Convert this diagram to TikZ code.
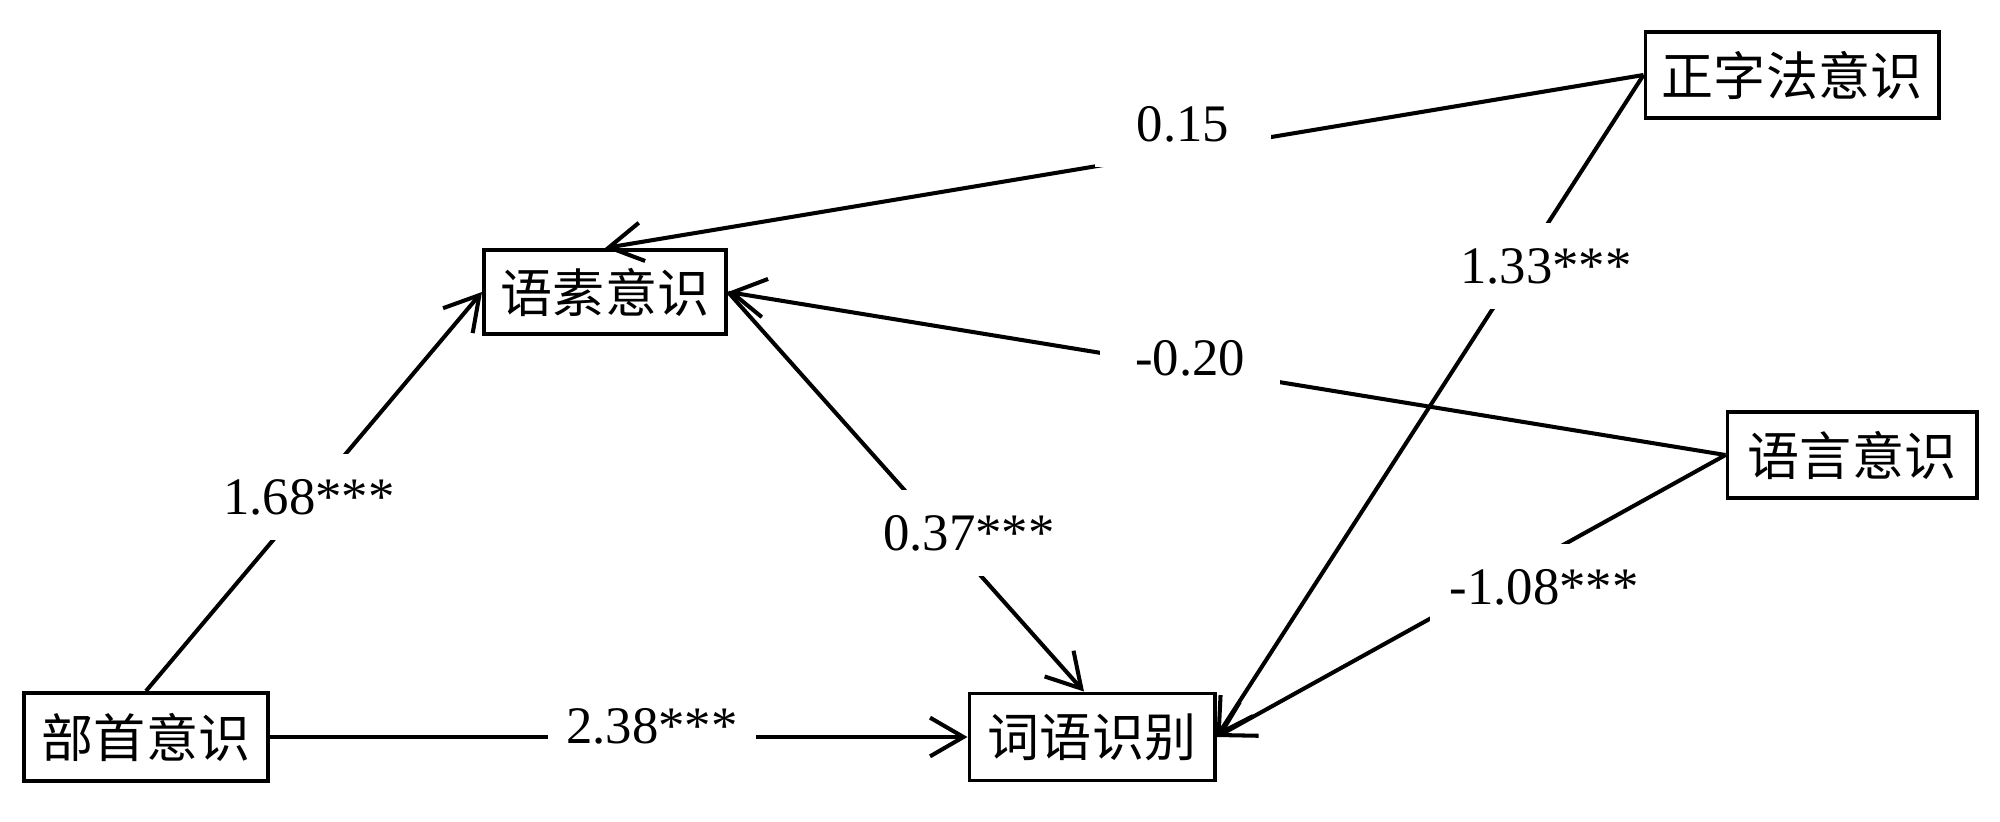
\documentclass[tikz,border=0pt]{standalone}
\usepackage{fontspec}
\setmainfont{Liberation Serif}
\newfontfamily\cjk{Noto Sans CJK SC}
\usetikzlibrary{arrows.meta}
\begin{document}
\begin{tikzpicture}[x=0.01cm,y=-0.01cm,
  box/.style={draw, line width=1.1pt, inner sep=0pt, minimum height=0.86cm,
    font=\cjk\fontsize{14.8pt}{18pt}\selectfont},
  lab/.style={fill=white, inner xsep=0.2cm, inner ysep=0.25cm,
    font=\fontsize{15pt}{18pt}\selectfont},
  conn/.style={line width=1.15pt, -{Straight Barb[length=9.5pt,width=11pt]}}
]
\useasboundingbox (0,0) rectangle (2000,821);

% nodes
\node[box, minimum width=2.44cm, minimum height=0.88cm] (bs) at (146,737) {部首意识};
\node[box, minimum width=2.42cm, minimum height=0.84cm] (ys) at (605,292) {语素意识};
\node[box, minimum width=2.45cm, minimum height=0.87cm] (cy) at (1092,737) {词语识别};
\node[box, minimum width=2.93cm] (zz) at (1792,75) {正字法意识};
\node[box, minimum width=2.49cm] (yy) at (1852,455) {语言意识};

% connectors
\draw[conn] (bs.north) -- (ys.west);
\draw[conn] (bs) -- (cy);
\draw[conn] (zz.west) -- (ys.north);
\draw[conn] (yy.west) -- (ys.east);
\draw[conn] (ys.east) -- (cy.100);
\draw[conn] (zz.west) -- (cy.east);
\draw[conn] (yy.west) -- (cy.east);

% labels
\node[lab, inner xsep=0.18cm] (l238) at (652,726) {2.38***};
\node[lab] (l168) at (309,497) {1.68***};
\node[lab, inner xsep=0.42cm] (l015) at (1183,124) {0.15};
\node[lab, inner xsep=0.35cm] (l020) at (1190,358) {-0.20};
\node[lab] (l037) at (969,533) {0.37***};
\node[lab] (l133) at (1546,266) {1.33***};
\node[lab] (l108) at (1544,587) {-1.08***};
\end{tikzpicture}
\end{document}
